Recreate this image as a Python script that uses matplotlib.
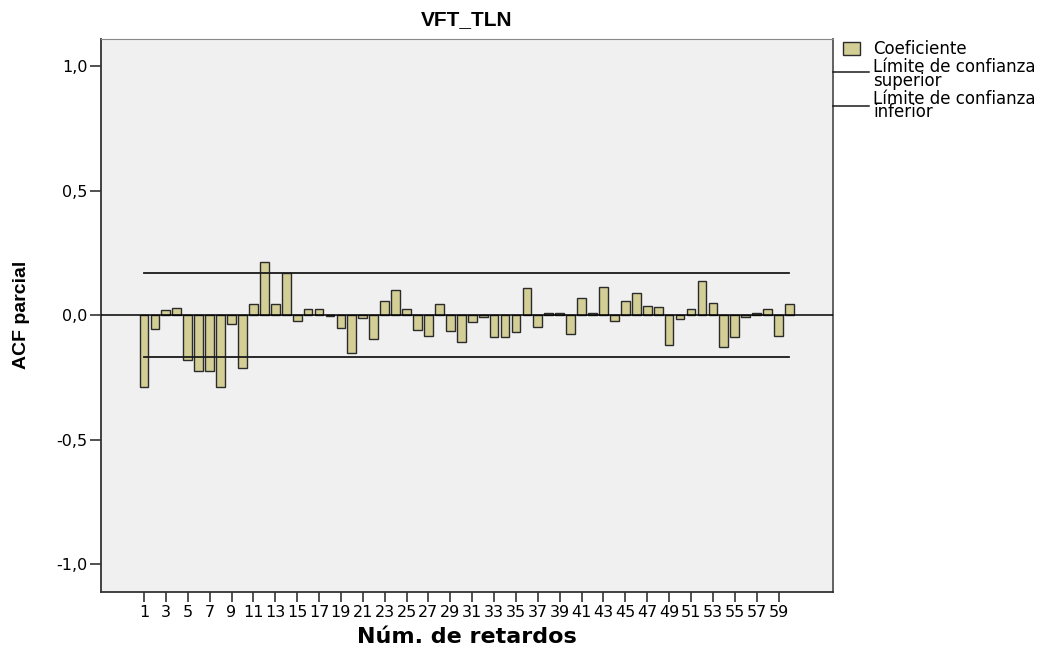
import matplotlib
matplotlib.use("Agg")
import matplotlib.pyplot as plt
from matplotlib.patches import Rectangle
from matplotlib.lines import Line2D

plt.rcParams['font.family'] = ['DejaVu Sans']

lags = list(range(1, 61))
pacf = [-0.288, -0.056, 0.020, 0.027, -0.181, -0.225, -0.224, -0.288, -0.036, -0.213,
        0.044, 0.212, 0.043, 0.167, -0.023, 0.025, 0.023, -0.003, -0.050, -0.154,
        -0.013, -0.096, 0.057, 0.102, 0.025, -0.058, -0.083, 0.044, -0.064, -0.108,
        -0.029, -0.007, -0.088, -0.087, -0.066, 0.107, -0.047, 0.009, 0.008, -0.075,
        0.067, 0.009, 0.112, -0.024, 0.057, 0.087, 0.036, 0.031, -0.119, -0.017,
        0.025, 0.135, 0.047, -0.128, -0.088, -0.006, 0.009, 0.025, -0.084, 0.043]
upper = [0.170] * 60
lower = [-0.170] * 60
tick_lags = list(range(1, 60, 2))
yticks = [-1.0, -0.5, 0.0, 0.5, 1.0]
ytick_labels = ['-1,0', '-0,5', '0,0', '0,5', '1,0']

W, H = 1045.0, 653.0
fig = plt.figure(figsize=(W / 100, H / 100), dpi=100)
ax = fig.add_axes([101 / W, 1 - 591.7 / H, (833 - 101) / W, (591.7 - 38.5) / H])
ax.set_facecolor('#f0f0f0')

bar_color = '#d3cd96'
ax.bar(lags, pacf, width=0.8, color=bar_color, edgecolor='#2b2b2b', linewidth=1.0, zorder=2)
ax.axhline(0, color='black', linewidth=1.1, zorder=3)
ax.plot(lags, upper, color='#1a1a1a', linewidth=1.3, zorder=3)
ax.plot(lags, lower, color='#1a1a1a', linewidth=1.3, zorder=3)

ax.set_xlim(-2.93, 63.98)
ax.set_ylim(-1.11, 1.11)
ax.set_xticks(tick_lags)
ax.set_xticklabels([str(t) for t in tick_lags], fontsize=11.5)
ax.set_yticks(yticks)
ax.set_yticklabels(ytick_labels, fontsize=11.5)
ax.tick_params(axis='x', direction='out', length=7.5, width=1.1, color='#222222', pad=2)
ax.tick_params(axis='y', direction='out', length=8, width=1.1, color='#222222', pad=1.5)

for side in ['left', 'bottom']:
    ax.spines[side].set_color('#333333')
    ax.spines[side].set_linewidth(1.3)
ax.spines['top'].set_color('#888888')
ax.spines['right'].set_color('#555555')
ax.spines['right'].set_linewidth(1.3)

ax.set_title('VFT_TLN', fontsize=15, fontweight='bold', pad=9.5,
             family=['Liberation Sans', 'DejaVu Sans'])
ax.set_xlabel('Núm. de retardos', fontsize=16, fontweight='bold')
ax.xaxis.set_label_coords(0.5, (591.7 - 637) / 553.2)
ax.xaxis.label.set_verticalalignment('center')
ax.set_ylabel('ACF parcial', fontsize=14, fontweight='bold',
              family=['Liberation Sans', 'DejaVu Sans'])
ax.yaxis.set_label_coords((22 - 101) / 732.0, 0.5)
ax.yaxis.label.set_verticalalignment('center')

# legend drawn at the right of the plot area
def fy(y):
    return 1 - y / H

fig.patches.append(Rectangle((843 / W, fy(55)), 17 / W, 13 / H, transform=fig.transFigure,
                             facecolor=bar_color, edgecolor='#2b2b2b', linewidth=1.0))
for yl in [71.7, 105.7]:
    fig.lines.append(Line2D([833 / W, 869 / W], [fy(yl), fy(yl)], transform=fig.transFigure,
                            color='#1a1a1a', linewidth=1.1))
# baseline of the last line of each entry
legend_texts = [('Coeficiente', 54), ('Límite de confianza\nsuperior', 86),
                ('Límite de confianza\ninferior', 117.3)]
for txt, base in legend_texts:
    fig.text(873 / W, fy(base), txt, fontsize=12, va='baseline', ha='left', linespacing=0.68)

fig.savefig('out.png', dpi=100, facecolor='white')
